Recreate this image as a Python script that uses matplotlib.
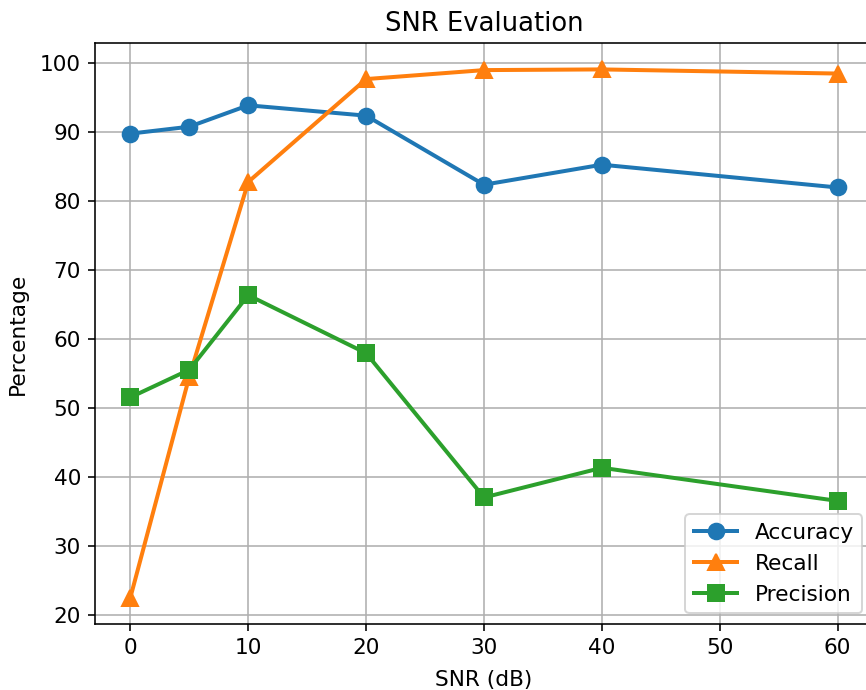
import matplotlib
matplotlib.use("Agg")
import matplotlib.pyplot as plt

# SNR sweep results (percent)
snr = [0, 5, 10, 20, 30, 40, 60]
accuracy = [89.7, 90.7, 93.8, 92.3, 82.3, 85.2, 81.9]
recall = [22.5, 54.5, 82.7, 97.6, 98.9, 99.0, 98.4]
precision = [51.5, 55.5, 66.3, 57.9, 37.0, 41.3, 36.5]

plt.rcParams.update({
    "font.size": 10.8,
    "lines.linewidth": 2.0,
    "lines.markersize": 7.8,
})

DPI = 144
fig = plt.figure(figsize=(866 / DPI, 690 / DPI), dpi=DPI)
# axes run slightly past the right edge, as in the cropped original
ax = fig.add_axes([95 / 866, 66 / 690, 778 / 866, 581 / 690])

ax.plot(snr, accuracy, marker="o", label="Accuracy")
ax.plot(snr, recall, marker="^", label="Recall")
ax.plot(snr, precision, marker="s", label="Precision")

ax.set_title("SNR Evaluation")
ax.set_xlabel("SNR (dB)", labelpad=6)
ax.set_ylabel("Percentage", labelpad=6)
ax.grid(True)
ax.legend(loc="lower right")

fig.savefig("out.png", dpi=DPI)
